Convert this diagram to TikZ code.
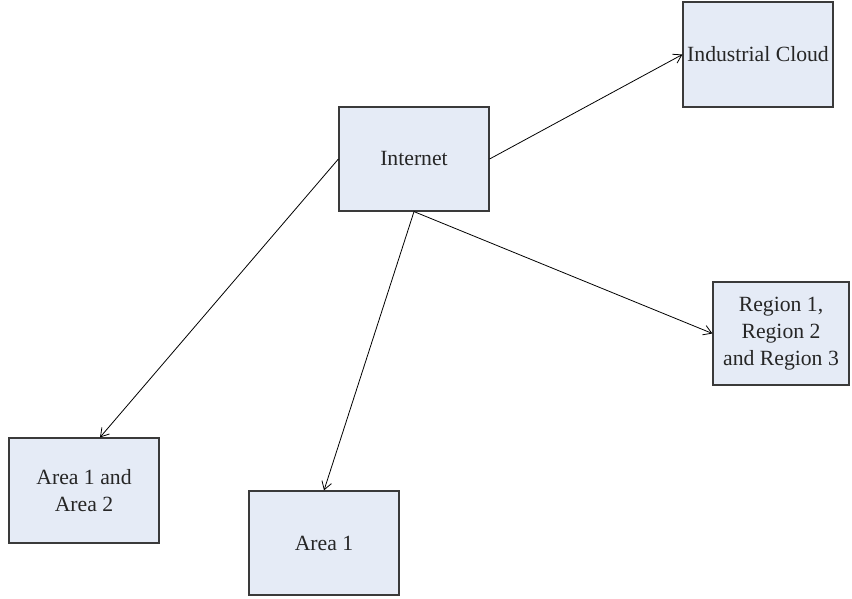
\documentclass[tikz,border=0pt]{standalone}
\usepackage{fontspec}
\setmainfont{Liberation Serif}
\usetikzlibrary{arrows.meta}
\definecolor{boxfill}{HTML}{E5EBF6}
\definecolor{boxline}{HTML}{3A3A3A}
\begin{document}
\begin{tikzpicture}[x=1pt,y=-1pt,
  blk/.style={draw=boxline,fill=boxfill,line width=1.2pt,inner sep=0pt,
    align=center,font=\fontsize{21.7}{27}\selectfont,text=black!85},
  conn/.style={line width=0.8pt,-{Straight Barb[length=8pt,width=10pt,line width=0.8pt]}}]
\useasboundingbox (0,0) rectangle (852,599);
\node[blk,minimum width=150pt,minimum height=104pt] (inet) at (414,159) {Internet};
\node[blk,minimum width=150pt,minimum height=105pt] (cloud) at (758,54.5) {Industrial Cloud};
\node[blk,minimum width=136pt,minimum height=103pt] (region) at (781,333.5) {Region 1,\\Region 2\\and Region 3};
\node[blk,minimum width=150pt,minimum height=105pt] (a12) at (84,490.5) {Area 1 and\\Area 2};
\node[blk,minimum width=150pt,minimum height=104pt] (a1) at (324,543) {Area 1};
\draw[conn] (inet.east) -- (cloud.west);
\draw[conn] (inet.west) -- ([xshift=16pt]a12.north);
\draw[conn] (inet.south) -- (a1.north);
\draw[conn] (inet.south) -- (region.west);
\end{tikzpicture}
\end{document}
